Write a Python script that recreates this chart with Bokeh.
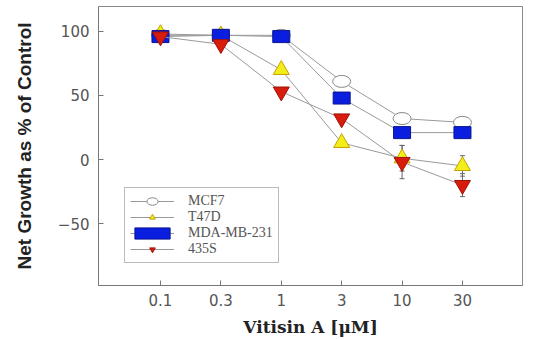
from bokeh.plotting import figure
from bokeh.models import FixedTicker, Range1d, Legend, LegendItem, Whisker, ColumnDataSource, TeeHead
from bokeh.embed import file_html
from bokeh.resources import INLINE

doses = ["0.1", "0.3", "1", "3", "10", "30"]
mcf7 = [97, 97, 97, 61, 32, 29]
mcf7_err = [1, 1, 1, 2, 2, 2]
t47d = [98, 97, 70, 13, 1, -5]
t47d_err = [2, 1, 2, 2, 10, 8]
mda = [96, 97, 96, 48, 21, 21]
mda_err = [1, 1, 1, 2, 2, 2]
s435 = [96, 90, 53, 32, -2, -20]
s435_err = [1, 2, 2, 2, 13, 9]

xi = list(range(len(doses)))

p = figure(width=525, height=340, output_backend="svg", toolbar_location=None,
           x_range=Range1d(-1.026, 5.994), y_range=Range1d(-98.4, 119.5),
           min_border_left=98, min_border_right=3, min_border_top=6, min_border_bottom=55)
p.background_fill_color = "white"
p.border_fill_color = "white"
p.outline_line_color = "#8a8a8a"
p.xgrid.visible = False
p.ygrid.visible = False

for ax in (p.xaxis[0], p.yaxis[0]):
    ax.axis_line_color = "#777777"
    ax.major_tick_line_color = "#777777"
    ax.major_tick_in = 5
    ax.major_tick_out = 0
    ax.minor_tick_line_color = None
    ax.major_label_text_font = "DejaVu Sans"
    ax.major_label_text_font_size = "15px"
    ax.major_label_text_color = "#555555"

p.xaxis.ticker = FixedTicker(ticks=xi)
p.xaxis.major_label_overrides = {i: d for i, d in zip(xi, doses)}
p.xaxis.major_label_standoff = 8
p.yaxis.ticker = FixedTicker(ticks=[-50, 0, 50, 100])
p.yaxis.major_label_standoff = 9

p.xaxis.axis_label = "Vitisin A [\u03bcM]"
p.xaxis.axis_label_text_font = "DejaVu Serif"
p.xaxis.axis_label_text_font_style = "bold"
p.xaxis.axis_label_text_font_size = "17px"
p.xaxis.axis_label_text_color = "#222222"
p.xaxis.axis_label_standoff = 8

p.yaxis.axis_label = "Net Growth as % of Control"
p.yaxis.axis_label_text_font = "Liberation Sans"
p.yaxis.axis_label_text_font_style = "bold"
p.yaxis.axis_label_text_font_size = "19px"
p.yaxis.axis_label_text_color = "#222222"
p.yaxis.axis_label_standoff = 20

line_color = "#9a9a9a"
items = []
series = [
    ("MCF7", mcf7, mcf7_err, "ellipse", "white", "#888888"),
    ("T47D", t47d, t47d_err, "triangle", "#f2ee1a", "#c8a000"),
    ("MDA-MB-231", mda, mda_err, "rect", "#0a1ee0", "#0a1490"),
    ("435S", s435, s435_err, "inverted_triangle", "#d81c0c", "#a01008"),
]

for name, vals, errs, kind, fill, edge in series:
    src = ColumnDataSource(dict(x=xi, y=vals,
                                lo=[v - e for v, e in zip(vals, errs)],
                                hi=[v + e for v, e in zip(vals, errs)]))
    w = Whisker(source=src, base="x", lower="lo", upper="hi",
                line_color="#666666", line_width=1,
                upper_head=TeeHead(size=5, line_color="#666666"),
                lower_head=TeeHead(size=5, line_color="#666666"))
    p.add_layout(w)
    r_line = p.line("x", "y", source=src, line_color=line_color, line_width=1)
    if kind == "ellipse":
        r_m = p.ellipse("x", "y", source=src, width=18, height=12,
                        width_units="screen", height_units="screen",
                        fill_color=fill, line_color=edge, line_width=1)
    elif kind == "rect":
        r_m = p.rect("x", "y", source=src, width=17, height=12,
                     width_units="screen", height_units="screen",
                     fill_color=fill, line_color=edge, line_width=1)
    else:
        r_m = p.scatter("x", "y", source=src, marker=kind, size=16,
                        fill_color=fill, line_color=edge, line_width=1)
    items.append(LegendItem(label=name, renderers=[r_line, r_m]))

legend = Legend(items=items, location=(26, 22), orientation="vertical")
legend.label_text_font = "Liberation Serif"
legend.label_text_font_size = "14px"
legend.label_text_color = "#555555"
legend.glyph_width = 44
legend.glyph_height = 14
legend.label_height = 14
legend.spacing = 0
legend.padding = 5
legend.margin = 0
legend.label_standoff = 14
legend.border_line_color = "#777777"
legend.border_line_width = 1
legend.background_fill_alpha = 1
p.add_layout(legend, "center")

open("out.html", "w").write(file_html(p, INLINE))
